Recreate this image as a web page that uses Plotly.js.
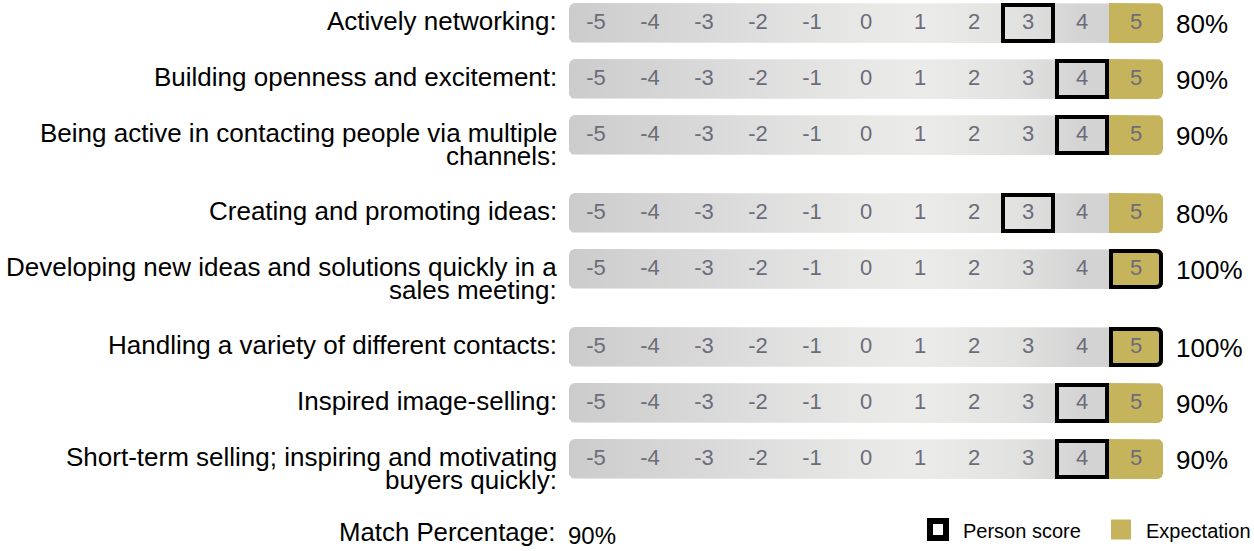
<!DOCTYPE html>
<html>
<head>
<meta charset="utf-8">
<script src="https://cdn.plot.ly/plotly-3.0.1.min.js"></script>
<style>html,body{margin:0;padding:0;background:#fff;}#chart{width:1254px;height:551px;}</style>
</head>
<body>
<div id="chart"></div>
<script>
// ---------- data ----------
const competencies = [
  "Actively networking:",
  "Building openness and excitement:",
  "Being active in contacting people via multiple<br>channels:",
  "Creating and promoting ideas:",
  "Developing new ideas and solutions quickly in a<br>sales meeting:",
  "Handling a variety of different contacts:",
  "Inspired image-selling:",
  "Short-term selling; inspiring and motivating<br>buyers quickly:"
];
const scaleLabels = [-5, -4, -3, -2, -1, 0, 1, 2, 3, 4, 5];
const personScores = [3, 4, 4, 3, 5, 5, 4, 4];
const expectations = [5, 5, 5, 5, 5, 5, 5, 5];
const matchPercentages = [80, 90, 90, 80, 100, 100, 90, 90];
const overallMatch = 90;
const legendNames = ["Person score", "Expectation"];

// ---------- layout helpers ----------
const W = 1254, H = 551;
const FONT = "Liberation Sans, Arial, sans-serif";
const GOLD = "#c5b45b";
const NUMCOL = "#6c6c7a";
const barLeftPx = 569, barRightPx = 1163;
const xMin = scaleLabels[0] - 0.5, xMax = scaleLabels[scaleLabels.length - 1] + 0.5;
const ux = (xMax - xMin) / (barRightPx - barLeftPx); // data units per pixel (x)
const barH = 40, rowStep = 56, lineStep = 23, firstRow = 23;

// row centres (y axis units are pixels from top), derived from label line counts
const rowY = [];
let yc = firstRow;
competencies.forEach((lab) => {
  rowY.push(yc);
  const n = lab.split("<br>").length;
  yc += rowStep + 22 * (n - 1);
});

function roundedPoly(x0, x1, y0, y1, rpx, rl, rr) {
  const rx = rpx * ux, ry = rpx, xs = [], ys = [], seg = 8;
  function arc(cx, cy, a0, a1, r) {
    for (let i = 0; i <= seg; i++) {
      const a = a0 + (a1 - a0) * i / seg;
      xs.push(cx + (r ? rx : 0) * Math.cos(a));
      ys.push(cy + (r ? ry : 0) * Math.sin(a));
    }
  }
  arc(rl ? x0 + rx : x0, rl ? y0 + ry : y0, Math.PI, 1.5 * Math.PI, rl);
  arc(rr ? x1 - rx : x1, rr ? y0 + ry : y0, 1.5 * Math.PI, 2 * Math.PI, rr);
  arc(rr ? x1 - rx : x1, rr ? y1 - ry : y1, 0, 0.5 * Math.PI, rr);
  arc(rl ? x0 + rx : x0, rl ? y1 - ry : y1, 0.5 * Math.PI, Math.PI, rl);
  xs.push(xs[0]); ys.push(ys[0]);
  return {xs, ys};
}

const traces = [];
const shapes = [];
const annotations = [];

rowY.forEach((y, i) => {
  const y0 = y - barH / 2, y1 = y + barH / 2;
  // gradient bar
  const p = roundedPoly(xMin, xMax, y0, y1, 6, true, true);
  traces.push({
    type: "scatter", mode: "lines", x: p.xs, y: p.ys, fill: "toself",
    line: {width: 0, color: "rgba(0,0,0,0)"}, fillcolor: "#dcdddc",
    fillgradient: {type: "horizontal", colorscale: [
      [0, "#cbcccb"], [0.25, "#d9dad9"], [0.5, "#e8e9e7"], [0.6, "#ebecea"],
      [0.75, "#e2e3e1"], [0.86, "#d3d4d3"], [1, "#cfd0cf"]]},
    hoverinfo: "skip", showlegend: false
  });
  // expectation cell
  const e = expectations[i];
  const g = roundedPoly(e - 0.5, e + 0.5, y0, y1, 6, e === scaleLabels[0], e === scaleLabels[scaleLabels.length - 1]);
  traces.push({
    type: "scatter", mode: "lines", x: g.xs, y: g.ys, fill: "toself",
    line: {width: 0, color: "rgba(0,0,0,0)"}, fillcolor: GOLD,
    hoverinfo: "skip", showlegend: false
  });
  // person score box
  const s = personScores[i];
  const lw = 4, ins = lw / 2;
  const bx0 = s - 0.5 + ins * ux, bx1 = s + 0.5 - ins * ux, by0 = y0 + ins, by1 = y1 - ins;
  const atRight = s === scaleLabels[scaleLabels.length - 1];
  let path;
  if (atRight) {
    const r = 5, rx = r * ux;
    path = `M${bx0},${by0} L${bx1 - rx},${by0} Q${bx1},${by0} ${bx1},${by0 + r} L${bx1},${by1 - r} Q${bx1},${by1} ${bx1 - rx},${by1} L${bx0},${by1} Z`;
  } else {
    path = `M${bx0},${by0} L${bx1},${by0} L${bx1},${by1} L${bx0},${by1} Z`;
  }
  shapes.push({type: "path", xref: "x", yref: "y", path, line: {color: "#000", width: lw}, fillcolor: "rgba(0,0,0,0)", layer: "above"});

  // labels (line by line)
  competencies[i].split("<br>").forEach((ln, k) => {
    annotations.push({xref: "x", yref: "y", x: xMin, y: y + k * lineStep, xshift: -11, yshift: 2,
      xanchor: "right", yanchor: "middle", text: ln, showarrow: false, borderpad: 0,
      font: {family: FONT, size: 26, color: "#000"}});
  });
  // percentage
  annotations.push({xref: "x", yref: "y", x: xMax, y: y, xshift: 11, yshift: -1,
    xanchor: "left", yanchor: "middle", text: matchPercentages[i] + "%", showarrow: false,
    font: {family: FONT, size: 26, color: "#000"}});
});

// scale numbers
const nx = [], ny = [], nt = [];
rowY.forEach((y) => scaleLabels.forEach((v) => { nx.push(v); ny.push(y); nt.push(String(v)); }));
traces.push({type: "scatter", mode: "text", x: nx, y: ny, text: nt, textposition: "middle center",
  textfont: {family: FONT, size: 22, color: NUMCOL}, hoverinfo: "skip", showlegend: false});

// bottom: match percentage
annotations.push({xref: "x", yref: "y", x: xMin, y: 532, xshift: -11, xanchor: "right", yanchor: "middle",
  text: "Match Percentage:", showarrow: false, font: {family: FONT, size: 25.8, color: "#000"}});
annotations.push({xref: "x", yref: "y", x: xMin, y: 535, xshift: -3, xanchor: "left", yanchor: "middle",
  text: overallMatch + "%", showarrow: false, font: {family: FONT, size: 24, color: "#000"}});

// legend
shapes.push({type: "rect", xref: "paper", yref: "y", x0: 930 / W, x1: 946 / W, y0: 521, y1: 538,
  line: {color: "#000", width: 6}, fillcolor: "#fff"});
shapes.push({type: "rect", xref: "paper", yref: "y", x0: 1111 / W, x1: 1131 / W, y0: 519.5, y1: 539.5,
  line: {width: 0}, fillcolor: GOLD});
annotations.push({xref: "paper", yref: "y", x: 961 / W, y: 530.5, xanchor: "left", yanchor: "middle",
  text: legendNames[0], showarrow: false, font: {family: FONT, size: 20, color: "#000"}});
annotations.push({xref: "paper", yref: "y", x: 1144 / W, y: 530.5, xanchor: "left", yanchor: "middle",
  text: legendNames[1], showarrow: false, font: {family: FONT, size: 20, color: "#000"}});

const layout = {
  width: W, height: H, margin: {l: 0, r: 0, t: 0, b: 0},
  paper_bgcolor: "#fff", plot_bgcolor: "#fff", showlegend: false,
  xaxis: {domain: [barLeftPx / W, barRightPx / W], range: [xMin, xMax], visible: false, fixedrange: true},
  yaxis: {domain: [0, 1], range: [H, 0], visible: false, fixedrange: true},
  shapes, annotations
};
Plotly.newPlot("chart", traces, layout, {staticPlot: true, displayModeBar: false});
</script>
</body>
</html>
